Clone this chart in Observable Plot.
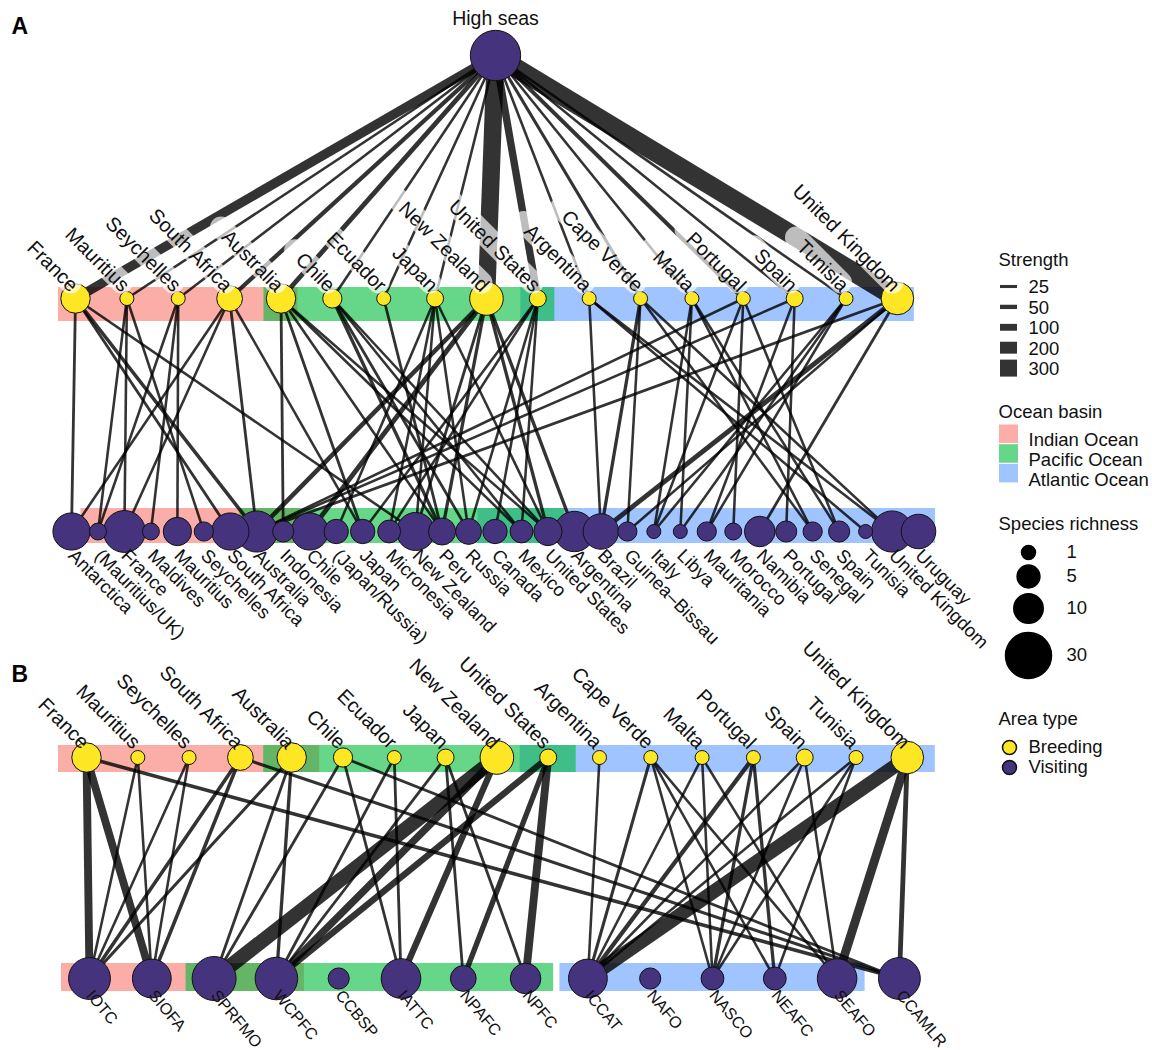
<!DOCTYPE html>
<html><head><meta charset="utf-8">
<style>html,body{margin:0;padding:0;background:#fff}svg{display:block;font-family:"Liberation Sans",Arial,sans-serif}</style>
<script src="https://cdn.jsdelivr.net/npm/d3@7"></script>
<script src="https://cdn.jsdelivr.net/npm/@observablehq/plot@0.6"></script>
</head><body><script>
// ---------- data ----------
const breeders = ["France","Mauritius","Seychelles","South Africa","Australia","Chile","Ecuador","Japan","New Zealand","United States","Argentina","Cape Verde","Malta","Portugal","Spain","Tunisia","United Kingdom"];
const breederRichness = [10,1,1,7,10,3,1,2,14,2,1,1,1,1,2,1,13];
const highSeasRichness = 37;
const highSeasStrength = [150,15,15,50,60,15,15,15,310,110,15,25,15,45,15,15,340];
const visited = ["Antarctica","(Mauritius/UK)","France","Maldives","Mauritius","Seychelles","South Africa","Australia","Indonesia","Chile","(Japan/Russia)","Japan","Micronesia","New Zealand","Peru","Russia","Canada","Mexico","United States","Argentina","Brazil","Guinea\u2013Bissau","Italy","Libya","Mauritania","Morocco","Namibia","Portugal","Senegal","Spain","Tunisia","United Kingdom","Uruguay"];
const visitedRichness = [18,2,24,2,9,3,18,23,4,18,6,6,5,19,8,7,6,5,9,22,16,3,1,1,3,2,11,4,3,4,1,23,15];
const rfmos = ["IOTC","SIOFA","SPRFMO","WCPFC","CCBSP","IATTC","NPAFC","NPFC","ICCAT","NAFO","NASCO","NEAFC","SEAFO","CCAMLR"];
const rfmoRichness = [24,20,27,25,4,21,7,11,20,4,5,5,21,24];
const linksA = [
["France","Antarctica",20],["France","South Africa",20],["France","Australia",35],["France","New Zealand",15],
["Mauritius","(Mauritius/UK)",15],["Mauritius","France",15],["Mauritius","Seychelles",15],
["Seychelles","(Mauritius/UK)",15],["Seychelles","Maldives",15],["Seychelles","Mauritius",15],
["South Africa","Antarctica",15],["South Africa","France",15],["South Africa","Australia",20],["South Africa","Japan",15],
["Australia","Indonesia",20],["Australia","Japan",20],["Australia","Peru",15],["Australia","Mexico",15],["Australia","United States",15],
["Chile","Peru",30],["Chile","Russia",20],["Chile","Mexico",15],["Chile","United States",15],
["Ecuador","Peru",20],
["Japan","(Japan/Russia)",15],["Japan","Micronesia",15],["Japan","New Zealand",15],["Japan","Russia",15],["Japan","United States",15],
["New Zealand","Australia",55],["New Zealand","Chile",60],["New Zealand","New Zealand",20],["New Zealand","Peru",30],["New Zealand","United States",30],["New Zealand","Argentina",30],
["United States","Japan",15],["United States","Micronesia",15],["United States","Russia",15],["United States","Canada",15],["United States","Mexico",15],
["Argentina","Brazil",15],["Argentina","United Kingdom",15],["Argentina","Tunisia",15],
["Cape Verde","Brazil",30],["Cape Verde","Guinea\u2013Bissau",15],["Cape Verde","Senegal",15],["Cape Verde","United Kingdom",15],
["Malta","Italy",15],["Malta","Libya",15],["Malta","Senegal",15],["Malta","Spain",15],
["Portugal","Australia",15],["Portugal","Italy",15],["Portugal","Morocco",15],["Portugal","Spain",15],
["Spain","Australia",15],["Spain","Mauritania",15],["Spain","Portugal",15],
["Tunisia","Italy",15],["Tunisia","Libya",15],["Tunisia","Mauritania",15],
["United Kingdom","Australia",20],["United Kingdom","Brazil",60],["United Kingdom","Guinea\u2013Bissau",15],["United Kingdom","Namibia",20]
];
const linksB = [
["France","IOTC",120],["France","SIOFA",120],["France","CCAMLR",35],
["Mauritius","IOTC",15],["Mauritius","SIOFA",15],["Seychelles","IOTC",15],["Seychelles","SIOFA",15],
["South Africa","IOTC",35],["South Africa","SIOFA",35],["South Africa","CCAMLR",25],
["Australia","IOTC",25],["Australia","SPRFMO",20],["Australia","WCPFC",30],
["Chile","SPRFMO",20],["Chile","IATTC",20],["Chile","CCAMLR",20],
["Ecuador","WCPFC",20],["Ecuador","IATTC",20],
["Japan","WCPFC",20],["Japan","NPAFC",20],["Japan","NPFC",20],
["New Zealand","SPRFMO",250],["New Zealand","WCPFC",110],["New Zealand","IATTC",90],
["United States","WCPFC",90],["United States","NPAFC",70],["United States","NPFC",120],
["Argentina","ICCAT",15],
["Cape Verde","ICCAT",25],["Cape Verde","NASCO",15],["Cape Verde","NEAFC",15],["Cape Verde","SEAFO",15],
["Malta","ICCAT",15],["Malta","NASCO",15],["Malta","SEAFO",15],
["Portugal","ICCAT",50],["Portugal","NASCO",30],["Portugal","NEAFC",30],
["Spain","ICCAT",15],["Spain","NASCO",15],["Spain","SEAFO",15],
["Tunisia","ICCAT",15],["Tunisia","NASCO",15],["Tunisia","NEAFC",15],
["United Kingdom","ICCAT",240],["United Kingdom","SEAFO",140],["United Kingdom","CCAMLR",60]
];
const basinNames = ["Indian Ocean","Pacific Ocean","Atlantic Ocean"];
const basinColors = ["#F8766D","#00BA38","#619CFF"];
// basin membership: first and last node of each basin on each row
const basinSpans = {
  topA:[["France","Australia"],["Australia","United States"],["United States","United Kingdom"]],
  lowA:[["(Mauritius/UK)","Indonesia"],["Australia","United States"],["Canada","Uruguay"]],
  topB:[["France","Australia"],["Australia","United States"],["United States","United Kingdom"]],
  lowB:[["IOTC","WCPFC"],["SPRFMO","NPFC"],["ICCAT","SEAFO"]]
};
const strengthLegend = [25,50,100,200,300];
const richnessLegend = [1,5,10,30];
const areaTypes = ["Breeding","Visiting"];

// ---------- layout of the rows ----------
const YEL="#FDE725", PUR="#46337E";
const rows = {
  topA:{names:breeders,rich:breederRichness,x0:75,dx:51.37,y:298,by:304,bh:17,pad:17,fill:YEL},
  lowA:{names:visited,rich:visitedRichness,x0:71,dx:26.47,y:531,by:525.5,bh:17.5,pad:17,fill:PUR},
  topB:{names:breeders,rich:breederRichness,x0:86,dx:51.3,y:757,by:758.5,bh:13.5,pad:28,fill:YEL},
  lowB:{names:rfmos,rich:rfmoRichness,x0:89,dx:62.3,y:978,by:977,bh:14,pad:28,fill:PUR}
};
const posX=(row,n)=>rows[row].x0+rows[row].dx*rows[row].names.indexOf(n);
const nodes=k=>rows[k].names.map((name,i)=>({name,rich:rows[k].rich[i],x:rows[k].x0+rows[k].dx*i,y:rows[k].y,fill:rows[k].fill}));
const hs={name:"High seas",rich:highSeasRichness,x:495,y:55,fill:PUR};
// Pacific is painted last so that its overlaps keep the reference's green and teal
const paintOrder=[0,2,1];
const bands=Object.keys(basinSpans).flatMap(k=>paintOrder.map(i=>{const [a,b]=basinSpans[k][i];return {
  x1:posX(k,a)-rows[k].pad,x2:posX(k,b)+rows[k].pad,y1:rows[k].by-rows[k].bh,y2:rows[k].by+rows[k].bh,fill:basinColors[i]};}));
const mk=(list,t,b)=>list.map(([s,v,w])=>({x1:posX(t,s),y1:rows[t].y,x2:posX(b,v),y2:rows[b].y,w}));
const lw=d3.scaleLinear([0,300],[1.8,17]);
const allLinks=[
  ...breeders.map((b,i)=>({x1:hs.x,y1:hs.y,x2:posX("topA",b),y2:rows.topA.y,w:highSeasStrength[i]})),
  ...mk(linksA,"topA","lowA"),...mk(linksB,"topB","lowB")];
const FS=20;
const ctx=document.createElement("canvas").getContext("2d");
ctx.font=FS+'px "Liberation Sans"';
const C=Math.SQRT1_2;
const labelsBox=nodes("topA").map(d=>{const L=ctx.measureText(d.name).width,ex=d.x-5,ey=d.y-16;
  return {x1:ex,y1:ey,x2:ex-L*C,y2:ey-L*C};});
const textBase={fontFamily:"Liberation Sans",fill:"#111"};
const lx=1028;
const legendText=(data,opts)=>Plot.text(data,{...textBase,x:"x",y:"y",text:"t",textAnchor:"start",lineAnchor:"middle",fontSize:18.5,...opts});

const chart=Plot.plot({
  width:1152,height:1050,margin:0,
  x:{domain:[0,1152],range:[0,1152],axis:null},
  y:{domain:[0,1050],range:[0,1050],axis:null},
  r:{type:"sqrt",domain:[1,30],range:[7,23]},
  style:{background:"#fff"},
  marks:[
    Plot.rect(bands,{x1:"x1",x2:"x2",y1:"y1",y2:"y2",fill:"fill",fillOpacity:0.6}),
    Plot.link(allLinks,{x1:"x1",y1:"y1",x2:"x2",y2:"y2",stroke:"#000",strokeOpacity:0.8,strokeWidth:d=>lw(d.w)}),
    ...["topA","lowA","topB","lowB"].map(k=>Plot.dot(nodes(k),{x:"x",y:"y",r:"rich",fill:"fill",stroke:"#111",strokeWidth:1})),
    Plot.dot([hs],{x:"x",y:"y",r:"rich",fill:"fill",stroke:"#111",strokeWidth:1}),
    Plot.link(labelsBox,{x1:"x1",y1:"y1",x2:"x2",y2:"y2",stroke:"#fff",strokeOpacity:0.68,strokeWidth:22,strokeLinecap:"round"}),
    Plot.text([hs],{...textBase,x:"x",y:d=>d.y-37,text:"name",fontSize:19.5,lineAnchor:"middle"}),
    Plot.text(nodes("topA"),{...textBase,x:d=>d.x-1,y:d=>d.y-10,text:"name",rotate:45,textAnchor:"end",lineAnchor:"middle",fontSize:FS}),
    Plot.text(nodes("topB"),{...textBase,x:d=>d.x-1,y:d=>d.y-12,text:"name",rotate:45,textAnchor:"end",lineAnchor:"middle",fontSize:FS}),
    Plot.text(nodes("lowA"),{...textBase,x:d=>d.x,y:d=>d.y+21,text:"name",rotate:45,textAnchor:"start",lineAnchor:"middle",fontSize:18.5}),
    Plot.text(nodes("lowB"),{...textBase,x:d=>d.x,y:d=>d.y+14,text:"name",rotate:50,textAnchor:"start",lineAnchor:"middle",fontSize:16.2}),
    Plot.text([{x:11,y:26,t:"A"},{x:11,y:674,t:"B"}],{x:"x",y:"y",text:"t",fontFamily:"Liberation Sans",fontWeight:"bold",fontSize:23,fill:"#000",textAnchor:"start",lineAnchor:"middle"}),
    // legends
    legendText([{x:998,y:260,t:"Strength"},{x:998,y:412,t:"Ocean basin"},{x:998,y:524,t:"Species richness"},{x:998,y:719,t:"Area type"}],{}),
    Plot.ruleY(strengthLegend,{y:(d,i)=>286+20.4*i,x1:1000,x2:1017,stroke:"#333",strokeWidth:d=>lw(d)}),
    legendText(strengthLegend.map((d,i)=>({x:lx,y:287+20.4*i,t:String(d)})),{}),
    Plot.rect(basinNames,{x1:999,x2:1018,y1:(d,i)=>424.5+19.7*i,y2:(d,i)=>443+19.7*i,fill:(d,i)=>basinColors[i],fillOpacity:0.6}),
    legendText(basinNames.map((d,i)=>({x:lx,y:440+20*i,t:d})),{}),
    Plot.dot(richnessLegend,{x:1028,y:(d,i)=>[552,576,608,655][i],r:d=>d,fill:"#000",stroke:"#000"}),
    legendText(richnessLegend.map((d,i)=>({x:1066,y:[552,576,608,655][i],t:String(d)})),{}),
    Plot.dot(areaTypes,{x:1009,y:(d,i)=>747+20*i,r:()=>1,fill:(d,i)=>[YEL,PUR][i],stroke:"#111"}),
    legendText(areaTypes.map((d,i)=>({x:lx,y:747+20*i,t:d})),{})
  ]
});
document.body.appendChild(chart);
</script></body></html>
